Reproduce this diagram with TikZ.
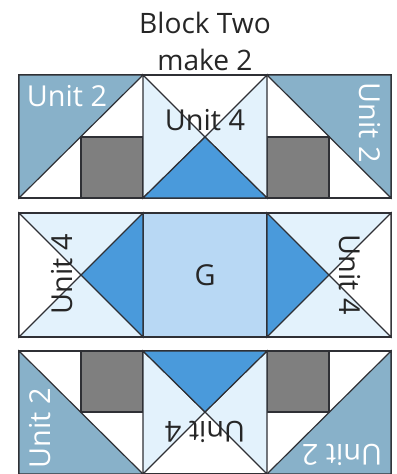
\documentclass[tikz,border=0pt]{standalone}
\usepackage{fontspec}
\setmainfont{Open Sans}
\definecolor{quiltTeal}{HTML}{88B1C9}
\definecolor{quiltPale}{HTML}{E3F2FC}
\definecolor{quiltBlue}{HTML}{4A9ADB}
\definecolor{quiltSky}{HTML}{B8D8F4}
\definecolor{quiltGray}{HTML}{7F7F7F}
\definecolor{quiltLine}{HTML}{2F3035}
\tikzset{
  patch/.style={draw=quiltLine, line width=0.85pt, line join=miter},
  labelD/.style={font=\fontsize{20.5}{24}\selectfont, color=black!85, inner sep=0pt},
  labelW/.style={font=\fontsize{20.5}{24}\selectfont, color=white, inner sep=0pt},
  titleT/.style={font=\fontsize{20}{24}\selectfont, color=black!85, inner sep=0pt},
}
\begin{document}
\begin{tikzpicture}[x=0.025cm, y=-0.025cm]
    \useasboundingbox (0,0) rectangle (396,474);

    % fila superior
    \draw[patch, fill=white] (19,75) rectangle (391,198);
    \draw[patch, fill=quiltTeal] (19,75) -- (143,75) -- (19,198) -- cycle;
    \draw[patch, fill=quiltTeal] (391,75) -- (267,75) -- (391,198) -- cycle;
    \draw[patch, fill=quiltGray] (81,137) rectangle (143,198);
    \draw[patch, fill=quiltGray] (267,137) rectangle (329,198);
    \draw[patch, fill=quiltPale] (143,75) -- (205,137) -- (143,198) -- cycle;
    \draw[patch, fill=quiltPale] (267,75) -- (205,137) -- (267,198) -- cycle;
    \draw[patch, fill=quiltBlue] (143,198) -- (205,137) -- (267,198) -- cycle;

    % fila central
    \draw[patch, fill=quiltSky] (143,213) rectangle (267,337);
    \draw[patch, fill=quiltPale] (19,213) rectangle (143,337);
    \draw[patch, fill=quiltPale] (267,213) rectangle (391,337);
    \draw[patch, fill=white] (19,213) -- (81,275) -- (19,337) -- cycle;
    \draw[patch, fill=white] (391,213) -- (329,275) -- (391,337) -- cycle;
    \draw[patch, fill=quiltBlue] (143,213) -- (81,275) -- (143,337) -- cycle;
    \draw[patch, fill=quiltBlue] (267,213) -- (329,275) -- (267,337) -- cycle;

    % fila inferior
    \draw[patch, fill=white] (19,351) rectangle (391,474);
    \draw[patch, fill=quiltTeal] (19,351) -- (143,474) -- (19,474) -- cycle;
    \draw[patch, fill=quiltTeal] (391,351) -- (267,474) -- (391,474) -- cycle;
    \draw[patch, fill=quiltGray] (81,351) rectangle (143,412);
    \draw[patch, fill=quiltGray] (267,351) rectangle (329,412);
    \draw[patch, fill=quiltPale] (143,351) -- (205,412) -- (143,474) -- cycle;
    \draw[patch, fill=quiltPale] (267,351) -- (205,412) -- (267,474) -- cycle;
    \draw[patch, fill=quiltBlue] (143,351) -- (205,412) -- (267,351) -- cycle;

    \node[titleT] (title) at (205,23) {Block Two};
    \node[titleT] (make) at (205,60) {make 2};
    \node[labelW] (topL) at (67,96) {Unit 2};
    \node[labelD] (topC) at (205,120) {Unit 4};
    \node[labelW, rotate=-90] (topR) at (370,123) {Unit 2};
    \node[labelD, rotate=90] (midL) at (62,274) {Unit 4};
    \node[labelD] (midC) at (205,275) {G};
    \node[labelD, rotate=-90] (midR) at (350,275) {Unit 4};
    \node[labelW, rotate=90] (botL) at (40,428) {Unit 2};
    \node[labelD, rotate=180] (botC) at (205,432) {Unit 4};
    \node[labelW, rotate=180] (botR) at (342,455) {Unit 2};
  \end{tikzpicture}
\end{document}
